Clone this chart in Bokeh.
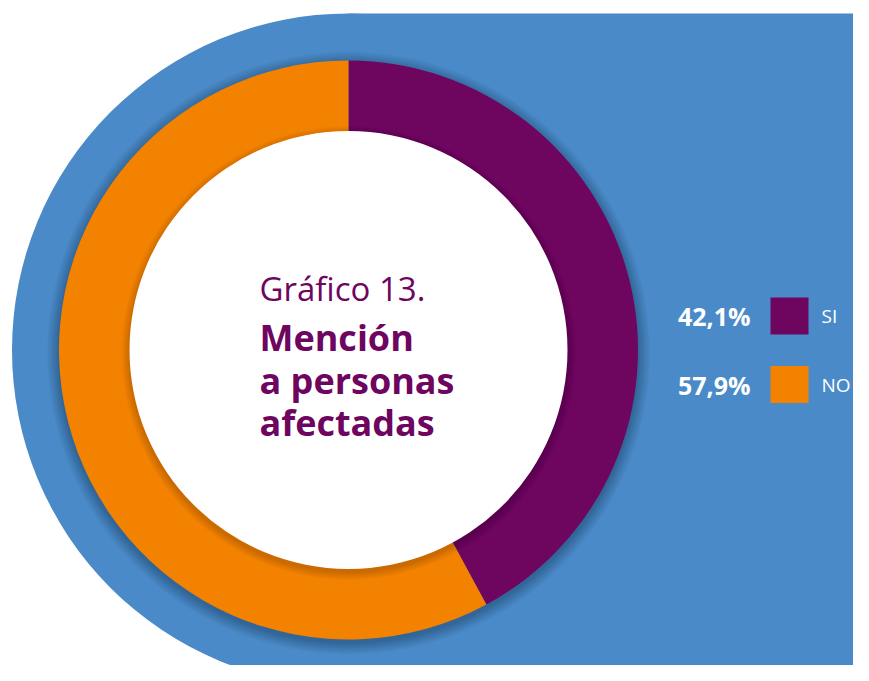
import math
from bokeh.plotting import figure
from bokeh.models import Range1d
from bokeh.core.properties import value
from bokeh.embed import file_html
from bokeh.resources import INLINE

# ---- data ----
categories = ["SI", "NO"]
percentages = [42.1, 57.9]
pct_labels = ["42,1%", "57,9%"]
colors = ["#6E055F", "#F38200"]
title_light = "Gráfico 13."
title_bold = ["Mención", "a personas", "afectadas"]

BLUE = "#4A8AC8"
FONT = "Open Sans"

W, H = 853, 665
p = figure(width=W, height=H, x_range=Range1d(0, W), y_range=Range1d(681 - H, 681),
           toolbar_location=None, output_backend="svg", min_border=0,
           x_axis_type=None, y_axis_type=None)
p.grid.visible = False
p.outline_line_color = None
p.background_fill_color = "white"
p.border_fill_color = "white"


def Y(img_y):
    return 681 - img_y


cx, cy = 348, Y(349.5)
r_out, r_in = 289.5, 219
r_bg = 336.5

# blue background shape
p.circle(x=[cx], y=[cy], radius=r_bg, fill_color=BLUE, line_color=None)
p.quad(left=[cx], right=[1000], top=[Y(13)], bottom=[-200], fill_color=BLUE, line_color=None)

# soft outer shadow of the ring
for k in range(12):
    p.circle(x=[cx], y=[cy - 3], radius=r_out + 12 - k, fill_color="black",
             fill_alpha=0.02, line_color=None)

# donut wedges
total = sum(percentages)
start = math.pi / 2
for cat, val, col in zip(categories, percentages, colors):
    sweep = 2 * math.pi * val / total
    p.annular_wedge(x=[cx], y=[cy], inner_radius=r_in - 2, outer_radius=r_out,
                    start_angle=start - sweep, end_angle=start,
                    fill_color=col, line_color=None)
    start -= sweep

# shadow of the white hole onto the ring
for k in range(8):
    p.circle(x=[cx], y=[cy - 3], radius=r_in + 8 - k, fill_color="black",
             fill_alpha=0.018, line_color=None)
p.circle(x=[cx], y=[cy], radius=r_in, fill_color="white", line_color=None)

# title inside the donut
tx = 259
p.text(x=[tx], y=[Y(288)], text=[title_light], text_font=value(FONT),
       text_font_size="33px", text_color=colors[0], text_baseline="alphabetic",
       text_align="left")
bold_baselines = [337, 380, 422]
p.text(x=[tx] * len(title_bold), y=[Y(b) for b in bold_baselines], text=title_bold,
       text_font=value(FONT), text_font_size="36px", text_font_style="bold",
       text_color=colors[0], text_baseline="alphabetic", text_align="left")

# legend
leg_y = [Y(315.5 + 68.5 * i) for i in range(len(categories))]
p.rect(x=[789] * len(categories), y=leg_y, width=38, height=37,
       fill_color=colors, line_color=None)
p.text(x=[750] * len(categories), y=leg_y, text=pct_labels, text_font=value(FONT),
       text_font_size="25px", text_font_style="bold", text_color="white",
       text_align="right", text_baseline="middle")
p.text(x=[821] * len(categories), y=leg_y, text=categories, text_font=value(FONT),
       text_font_size="19px", text_color="white", text_align="left",
       text_baseline="middle")

open("out.html", "w").write(file_html(p, INLINE))
